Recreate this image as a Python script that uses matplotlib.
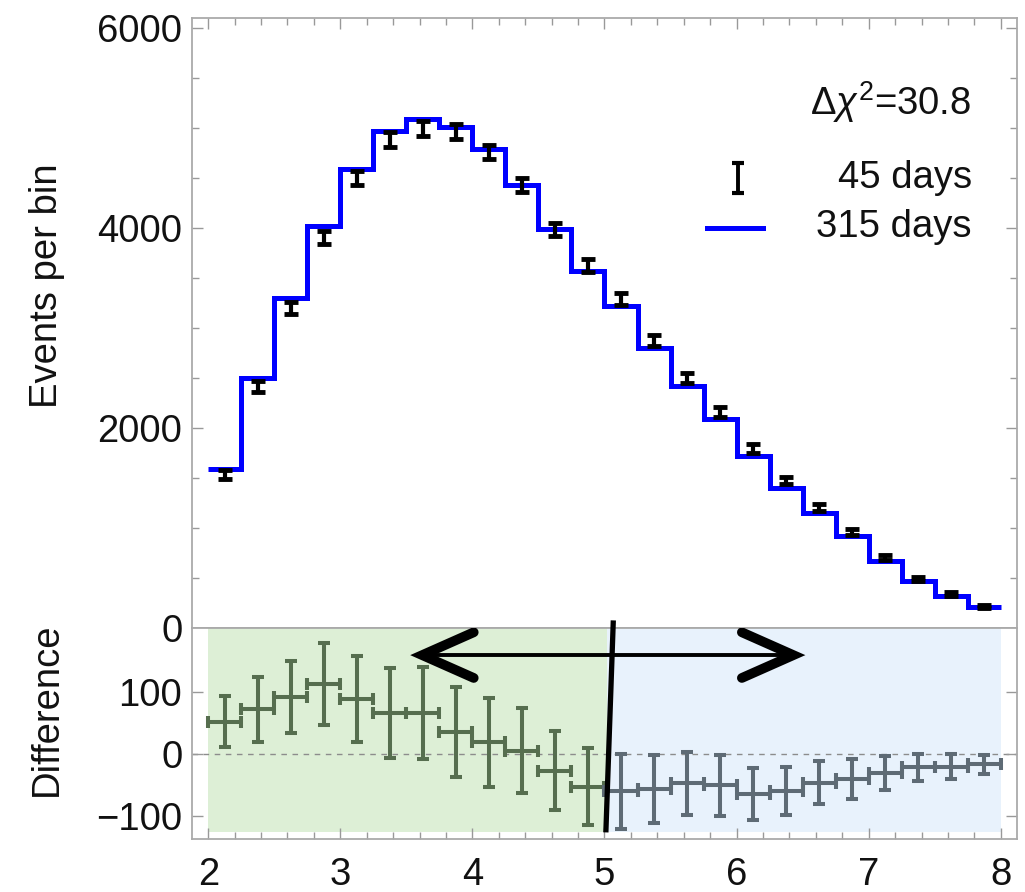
import numpy as np
import matplotlib
matplotlib.use('Agg')
import matplotlib.pyplot as plt
from matplotlib.ticker import MultipleLocator

plt.rcParams['font.family'] = ['Liberation Sans', 'DejaVu Sans']
plt.rcParams['mathtext.fontset'] = 'custom'
plt.rcParams['mathtext.rm'] = 'Liberation Sans'
plt.rcParams['mathtext.it'] = 'Liberation Sans:italic'

# energy binning (0.25 wide bins from 2 to 8)
bin_edges = np.linspace(2.0, 8.0, 25)
bin_centres = 0.5 * (bin_edges[:-1] + bin_edges[1:])

# 315 day spectrum, scaled to the 45 day exposure
events_315 = np.array([1595, 2500, 3300, 4020, 4590, 4970, 5095, 5015, 4790, 4435,
                       3990, 3570, 3220, 2800, 2420, 2095, 1720, 1405, 1155, 925,
                       670, 470, 315, 205])
# 45 day spectrum and its statistical errors
events_45 = np.array([1535, 2415, 3205, 3910, 4500, 4885, 5000, 4965, 4765, 4430,
                      3988, 3625, 3290, 2880, 2505, 2160, 1795, 1475, 1210, 960,
                      705, 490, 335, 215])
errors_45 = np.array([41, 52, 59, 66, 70, 73, 74, 73, 72, 69, 64, 63,
                      60, 55, 51, 49, 42, 39, 35, 32, 28, 22, 20, 15])
# 315 day minus 45 day, per bin
difference = np.array([52, 72, 92, 113, 89, 66, 66, 36, 19, 5, -27, -53,
                       -61, -57, -48, -51, -65, -60, -47, -41, -31, -22, -21, -17])

delta_chi2 = 30.8
split_energy = 5.02

FS = 27.5
TXT = '#111111'
fig = plt.figure(figsize=(10.25, 8.92), dpi=100)
ax_top = fig.add_axes([0.1873, 0.2960, 0.8049, 0.6835])
ax_bot = fig.add_axes([0.1873, 0.0594, 0.8049, 0.2366], sharex=ax_top)

# --- upper panel: spectra
ax_top.stairs(events_315, bin_edges, baseline=None, color='#0000ff', lw=3.6, zorder=2)
ax_top.errorbar(bin_centres, events_45, yerr=errors_45, fmt='none', ecolor='black',
                elinewidth=3.0, capsize=4.7, capthick=3.5, zorder=3)

ax_top.text(0.945, 0.862, r'$\Delta\chi^2$=%.1f' % delta_chi2, transform=ax_top.transAxes,
            ha='right', va='center', fontsize=FS, color=TXT)
ax_top.text(0.945, 0.738, '45 days', transform=ax_top.transAxes,
            ha='right', va='center', fontsize=FS, color=TXT)
ax_top.text(0.945, 0.657, '315 days', transform=ax_top.transAxes,
            ha='right', va='center', fontsize=FS, color=TXT)
ax_top.errorbar([0.662], [0.7385], yerr=[0.0246], transform=ax_top.transAxes, fmt='none',
                ecolor='black', elinewidth=2.8, capsize=4.5, capthick=3.0)
ax_top.plot([0.624, 0.692], [0.656, 0.656], transform=ax_top.transAxes, color='#0000ff', lw=3.6)

ax_top.set_ylim(0, 6100)
ax_top.set_yticks([0, 2000, 4000, 6000])
ax_top.yaxis.set_minor_locator(MultipleLocator(500))

# --- lower panel: difference
lo_y, hi_y = -126, 204
ax_bot.fill_between([2.0, split_energy], lo_y, hi_y, color='#ddefd6', lw=0, zorder=0)
ax_bot.fill_between([split_energy, 8.0], lo_y, hi_y, color='#e8f2fc', lw=0, zorder=0)
ax_bot.axhline(0, color='#8c8c8c', lw=1.0, ls=(0, (4, 4)), zorder=1)

left = bin_centres < split_energy
for mask, col in ((left, '#566e4f'), (~left, '#5e6b75')):
    ax_bot.errorbar(bin_centres[mask], difference[mask], xerr=0.125, yerr=errors_45[mask],
                    fmt='none', ecolor=col, elinewidth=2.9, capsize=4.3, capthick=2.9, zorder=2)

# double arrow and the dividing line
arrow_y = 160
arrow_ends = (3.62, 6.43)
head_dx, head_dy = 0.39, 37
ax_bot.plot(arrow_ends, [arrow_y, arrow_y], color='black', lw=2.8, zorder=4)
for tip, sgn in ((arrow_ends[0], 1), (arrow_ends[1], -1)):
    ax_bot.plot([tip + sgn * head_dx, tip, tip + sgn * head_dx],
                [arrow_y + head_dy, arrow_y, arrow_y - head_dy],
                color='black', lw=7.0, solid_capstyle='round', solid_joinstyle='miter', zorder=4)
ax_bot.plot([5.066, 5.011], [212, -123], color='black', lw=3.8, clip_on=False, zorder=5)

ax_bot.set_ylim(-138, 204)
ax_bot.set_yticks([-100, 0, 100])
ax_bot.set_xticks([2, 3, 4, 5, 6, 7, 8])

for ax in (ax_top, ax_bot):
    ax.set_xlim(1.877, 8.123)
    ax.xaxis.set_minor_locator(MultipleLocator(0.2))
    ax.tick_params(which='both', direction='in', top=True, right=True, color='#999999',
                   width=1.0, labelsize=FS, labelcolor=TXT)
    ax.tick_params(which='major', length=8)
    ax.tick_params(which='minor', length=5)
    ax.tick_params(axis='y', pad=7)
    for s in ax.spines.values():
        s.set_color('#aaaaaa')
        s.set_linewidth(1.3)
ax_top.tick_params(which='both', bottom=False, labelbottom=False)
ax_bot.tick_params(which='both', top=False)
ax_bot.tick_params(axis='x', pad=13)

fig.text(0.0459, 0.6794, 'Events per bin', rotation=90, ha='center', va='center',
         fontsize=FS, color=TXT)
fig.text(0.0459, 0.2052, 'Difference', rotation=90, ha='center', va='center',
         fontsize=FS, color=TXT)

fig.savefig('out.png', dpi=100)
